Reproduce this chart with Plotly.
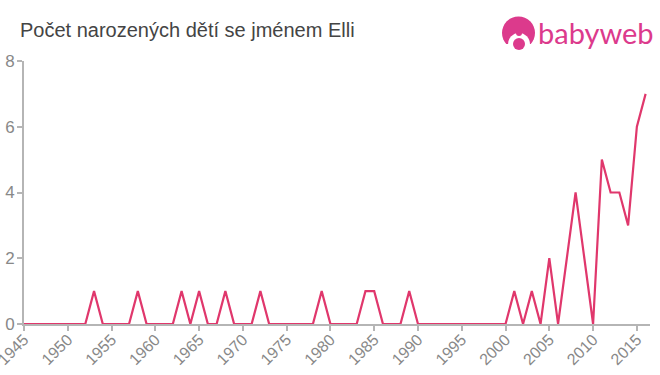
import plotly.graph_objects as go

years = list(range(1945, 2017))
nonzero = {1953: 1, 1958: 1, 1963: 1, 1965: 1, 1968: 1, 1972: 1, 1979: 1, 1984: 1, 1985: 1,
           1989: 1, 2001: 1, 2003: 1, 2005: 2, 2007: 2, 2008: 4, 2009: 2, 2011: 5, 2012: 4,
           2013: 4, 2014: 3, 2015: 6, 2016: 7}
counts = [nonzero.get(y, 0) for y in years]
x_ticks = list(range(1945, 2020, 5))
y_ticks = [0, 2, 4, 6, 8]
title = "Počet narozených dětí se jménem Elli"
brand = "babyweb"

W, H = 660, 375
L, R, T, B = 24, 650, 61, 324
px = lambda v: (v - L) / (R - L)
py = lambda v: (B - v) / (B - T)
PINK = "#dc3a8c"


def disc(x0, x1, y0, y1, color):
    return dict(type="circle", xref="paper", yref="paper", x0=px(x0), x1=px(x1), y0=py(y0), y1=py(y1),
                fillcolor=color, line_width=0, layer="above")


axis_common = dict(showgrid=False, zeroline=False, showline=True, linecolor="#b5b5b5", linewidth=2,
                   ticks="outside", ticklen=5, tickwidth=1.5, tickcolor="#b5b5b5",
                   layer="below traces", automargin=False)
fig = go.Figure(go.Scatter(x=years, y=counts, mode="lines",
                           line=dict(color="#e0376c", width=2.2), cliponaxis=False,
                           hoverinfo="skip"))
fig.update_layout(
    width=W, height=H, autosize=False, showlegend=False,
    paper_bgcolor="white", plot_bgcolor="white",
    margin=dict(l=L, r=W - R, t=T, b=H - B),
    title=dict(text=title, x=20 / W, xanchor="left", y=1 - 30 / H, yanchor="middle",
               font=dict(family="Liberation Sans", size=20, color="#444444")),
    xaxis=dict(range=[1945, 2016.5], tickvals=x_ticks, tickangle=-45, ticklabeloverflow="allow",
               ticklabelstandoff=-7,
               tickfont=dict(family="Liberation Sans", size=16, color="#888888"), **axis_common),
    yaxis=dict(range=[0, 8], tickvals=y_ticks, ticklabelstandoff=-1,
               tickfont=dict(family="Liberation Sans", size=17, color="#888888"), **axis_common),
    shapes=[
        disc(502, 535, 16.5, 49.5, PINK),
        dict(type="rect", xref="paper", yref="paper", x0=px(500), x1=px(537), y0=py(44), y1=py(52),
             fillcolor="white", line_width=0, layer="above"),
        disc(508, 530, 33, 56, "white"),
        disc(516, 522, 30, 36, PINK),
        disc(513, 525, 38, 50, PINK),
    ],
    annotations=[dict(text=brand, xref="paper", yref="paper", x=px(596), y=py(33), xanchor="center",
                      yanchor="middle", showarrow=False,
                      font=dict(family="Lato", size=29, color=PINK))],
)
fig.write_html("out.html", config={"displayModeBar": False},
               post_script="document.body.style.margin='0';document.body.style.overflow='hidden';")
